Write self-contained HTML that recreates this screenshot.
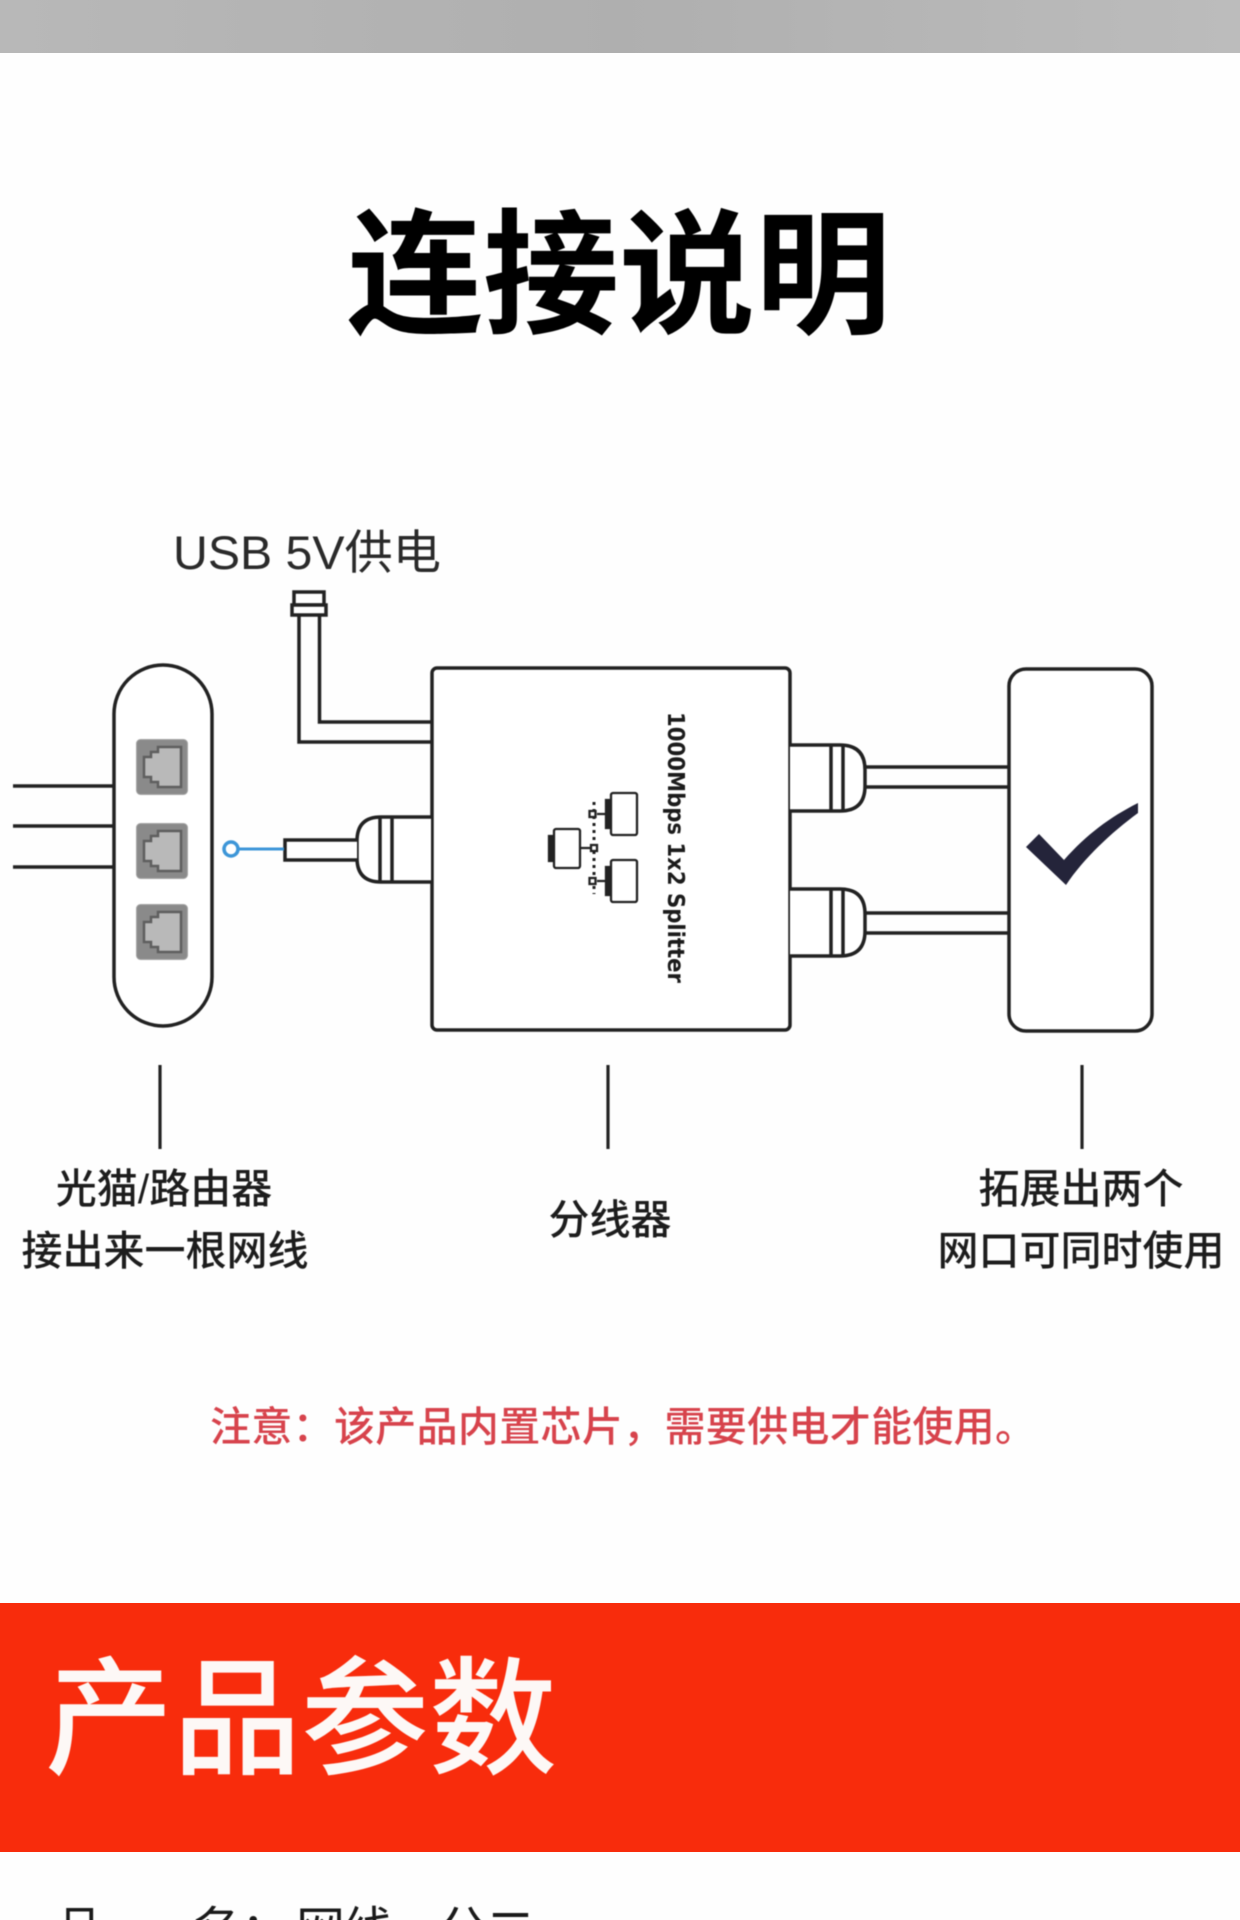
<!DOCTYPE html>
<html lang="zh">
<head>
<meta charset="utf-8">
<title>连接说明</title>
<style>
html,body{margin:0;padding:0;background:#fff;}
body{width:1240px;height:1920px;overflow:hidden;}
svg{display:block;}
.soft{filter:blur(0.4px);}
text{font-family:"Liberation Sans","Noto Sans CJK SC",sans-serif;}
</style>
</head>
<body>
<svg width="1240" height="1920" viewBox="0 0 1240 1920" xmlns="http://www.w3.org/2000/svg">
<defs>
<linearGradient id="g" x1="0" x2="1" y1="0" y2="0">
<stop offset="0" stop-color="#b8b8b8"/><stop offset=".5" stop-color="#afafaf"/><stop offset="1" stop-color="#bcbcbc"/>
</linearGradient>
<g id="port">
<rect x="0.500" y="0.500" width="51" height="55" rx="4" fill="#8a8a8a" stroke="#a5a5a5" stroke-width="1"/>
<path d="M45 8H22V13H15V18H8V38H15V43H22V48H45Z" fill="#b9b9b9" stroke="#5f5f5f" stroke-width="2.500"/>
</g>
</defs>
<rect width="1240" height="1920" fill="#fefefe"/>
<rect width="1240" height="53" fill="url(#g)"/>
<rect y="1603" width="1240" height="249" fill="#f82c0c"/>

<g class="soft">
<text x="619" y="323" font-size="136" font-weight="700" text-anchor="middle" fill="#000">连接说明</text>

<text x="173" y="569" font-size="47" fill="#2a2a2a" textLength="268" lengthAdjust="spacingAndGlyphs">USB 5V供电</text>

<g fill="none" stroke="#222" stroke-width="3.500">
<rect x="294" y="592" width="30" height="13" fill="#fff"/>
<rect x="292" y="605" width="34" height="10" fill="#fff"/>
<path d="M299 615V742H431M319.500 615V722H431"/>

<rect x="114" y="665" width="98" height="361" rx="49" fill="#fff"/>
<path d="M13 786H114M13 826H114M13 867H114"/>

<rect x="432" y="668" width="358" height="362" rx="5" fill="#fff"/>

<path d="M431 817H381Q357 817 357 841V858Q357 882 381 882H431" fill="#fff"/>
<path d="M380 817V882M392 817V882"/>
<path d="M357 840H285V860H357" fill="#fff"/>

<path d="M790 745H840Q865 745 865 770V786Q865 811 840 811H790" fill="#fff"/>
<path d="M831 745V811M843 745V811"/>
<path d="M865 767H1009M865 787H1009"/>
<path d="M790 889H840Q865 889 865 914V931Q865 956 840 956H790" fill="#fff"/>
<path d="M831 889V956M843 889V956"/>
<path d="M865 913H1009M865 933H1009"/>

<rect x="1009" y="669" width="143" height="362" rx="17" fill="#fff"/>
</g>

<use href="#port" x="136" y="739"/>
<use href="#port" x="136" y="823"/>
<use href="#port" x="136" y="904"/>

<circle cx="231" cy="849" r="7" fill="#fff" stroke="#3d96d8" stroke-width="3.500"/>
<path d="M238 849H284" stroke="#3d96d8" stroke-width="3" fill="none"/>

<path d="M1026 847L1039 834L1064 860C1086 835 1110 817 1138 803V813C1112 832 1084 858 1066 885Z" fill="#24243a"/>

<text transform="translate(668,712) rotate(90)" font-size="23" font-weight="700" fill="#1c1c1c" style="font-family:'DejaVu Sans',sans-serif" textLength="271" lengthAdjust="spacingAndGlyphs">1000Mbps 1x2 Splitter</text>

<g fill="#fff" stroke="#222" stroke-width="2.300">
<rect x="554" y="829" width="26" height="39" rx="2"/>
<path d="M554 836H549V861H554" fill="#222"/>
<rect x="611" y="793" width="26" height="42" rx="2"/>
<path d="M611 800H606V828H611" fill="#222"/>
<rect x="611" y="860" width="26" height="42" rx="2"/>
<path d="M611 867H606V895H611" fill="#222"/>
<path d="M594 802V894" stroke-dasharray="3 4" stroke-width="3" fill="none"/>
<path d="M597 814H606M597 881H606M581 848H591" fill="none"/>
<rect x="589.500" y="811" width="6" height="6"/>
<rect x="591" y="845" width="6" height="6"/>
<rect x="589.500" y="878" width="6" height="6"/>
</g>

<path d="M160 1065V1149M608 1065V1149M1082 1065V1149" stroke="#222" stroke-width="3.200" fill="none"/>

<g font-size="41" font-weight="500" fill="#1d1d1d" text-anchor="middle">
<text x="164" y="1203">光猫/路由器</text>
<text x="165" y="1265">接出来一根网线</text>
<text x="610" y="1234">分线器</text>
<text x="1081" y="1203">拓展出两个</text>
<text x="1081" y="1265">网口可同时使用</text>
</g>

<text x="210" y="1441" font-size="41" font-weight="500" fill="#d7434c" textLength="826">注意：该产品内置芯片，需要供电才能使用。</text>

<text x="45" y="1764" font-size="128" font-weight="500" fill="#fdf8f6">产品参数</text>

<g font-size="49" fill="#1a1a1a">
<text x="55" y="1947">品</text>
<text x="192" y="1947">名：</text>
<text x="296" y="1947" letter-spacing="-1.500">网线一分二</text>
</g>
</g>
</svg>
</body>
</html>
